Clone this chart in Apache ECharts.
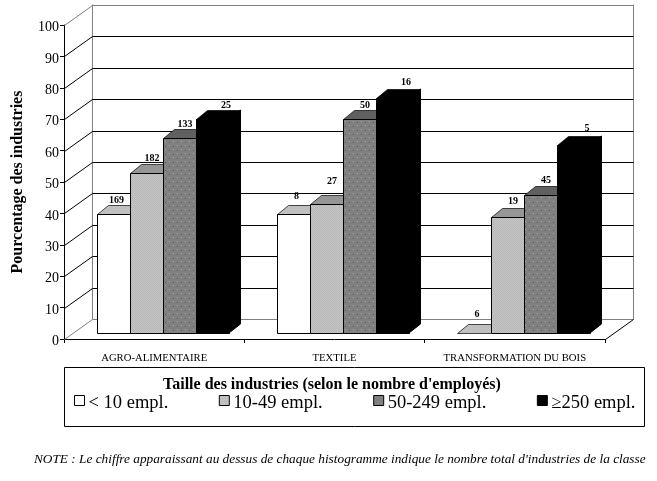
<!DOCTYPE html>
<html><head><meta charset="utf-8">
<style>html,body{margin:0;padding:0;background:#fff}#c{width:657px;height:481px}</style>
<script src="https://cdn.jsdelivr.net/npm/echarts@6/dist/echarts.min.js"></script>
</head><body><div id="c"></div>
<script>
const categories = ['AGRO-ALIMENTAIRE', 'TEXTILE', 'TRANSFORMATION DU BOIS'];
const sizeClasses = ['< 10 empl.', '10-49 empl.', '50-249 empl.', '≥250 empl.'];
const under10 = [38, 38, 0];
const from10to49 = [51, 41, 37];
const from50to249 = [62, 68, 44];
const over250 = [68, 75, 60];
const countUnder10 = [169, 8, 6];
const count10to49 = [182, 27, 19];
const count50to249 = [133, 50, 45];
const countOver250 = [25, 16, 5];
const yTicks = [0, 10, 20, 30, 40, 50, 60, 70, 80, 90, 100];

const SERIF = '"Liberation Serif","Times New Roman",serif';
const WALL = {dx: 28, dy: -21};
const BAR = {shiftX: 8.8, shiftY: -6, dx: 11.5, dy: -9, ratio: 0.1835};

function tile(base, draw) {
  const c = document.createElement('canvas'); c.width = 8; c.height = 8;
  const g = c.getContext('2d'); g.fillStyle = base; g.fillRect(0, 0, 8, 8); draw(g); return c;
}
const lightTile = tile('#C4C4C4', g => {
  g.fillStyle = '#B8B8B8';
  for (let y = 0; y < 8; y++) for (let x = 0; x < 8; x++) if ((x + y) % 2 === 0) g.fillRect(x, y, 1, 1);
});
const darkTile = tile('#808080', g => {
  g.fillStyle = '#A8A8A8'; g.fillRect(1, 1, 1, 1); g.fillRect(5, 5, 1, 1);
  g.fillStyle = '#606060'; g.fillRect(5, 2, 1, 1); g.fillRect(1, 6, 1, 1);
});
const looks = [
  {legend: '#FFFFFF', front: '#FFFFFF', top: '#C0C0C0', labelDx: 3, labelRise: [4.5, 8.5, 10]},
  {legend: '#C0C0C0', front: {image: lightTile, repeat: 'repeat'}, top: '#969696', labelDx: 5.5, labelRise: [6, 14, 7]},
  {legend: '#808080', front: {image: darkTile, repeat: 'repeat'}, top: '#606060', labelDx: 5.5, labelRise: [5, 5, 6]},
  {legend: '#000000', front: '#000000', top: '#000000', labelDx: 13.5, labelRise: [5, 7, 8]}
];
const crisp = v => Math.round(v) + 0.5;

function renderWall(params, api) {
  const v = api.value(0), cs = params.coordSys;
  const y = crisp(api.coord([0, v])[1]);
  const yB = crisp(y + WALL.dy);
  const xL = crisp(cs.x), xR = crisp(cs.x + cs.width);
  const edge = v === 0 || v === 100;
  const color = edge ? '#808080' : '#000000';
  const line = (x1, y1, x2, y2, c) => ({type: 'line', shape: {x1, y1, x2, y2}, style: {stroke: c || color, lineWidth: 1}});
  const children = [line(xL, y, xL + WALL.dx, yB), line(xL + WALL.dx, yB, xR + WALL.dx, yB)];
  if (v === 0) {
    const yTop = crisp(api.coord([0, 100])[1] + WALL.dy);
    children.push(line(xL + WALL.dx, yB, xL + WALL.dx, yTop), line(xR + WALL.dx, yB, xR + WALL.dx, yTop));
    children.push(line(xR, y, xR + WALL.dx, yB, '#000000'));
  }
  return {type: 'group', children};
}

function renderBar(idx) {
  return function (params, api) {
    const cat = api.value(0), val = api.value(1), count = api.value(2);
    const center = api.coord([cat, 0]);
    const w = api.size([1, 0])[0] * BAR.ratio;
    const x0 = Math.round(center[0] - 2 * w + idx * w + BAR.shiftX);
    const x1 = Math.round(center[0] - 2 * w + (idx + 1) * w + BAR.shiftX);
    const y0 = Math.round(center[1] + BAR.shiftY);
    const y1 = Math.round(api.coord([cat, val])[1] + BAR.shiftY);
    const look = looks[idx];
    const sideFill = idx === 3 ? '#000000' : look.top;
    const children = [
      {type: 'polygon', shape: {points: [[x0 + 0.5, y1 + 0.5], [x1 + 0.5, y1 + 0.5], [x1 + BAR.dx, y1 + BAR.dy + 0.5], [x0 + BAR.dx, y1 + BAR.dy + 0.5]]}, style: {fill: look.top, stroke: '#000000', lineWidth: 0.7}},
      {type: 'polygon', shape: {points: [[x1, y1], [x1 + BAR.dx, y1 + BAR.dy], [x1 + BAR.dx, y0 + BAR.dy], [x1, y0]]}, style: {fill: sideFill, stroke: sideFill, lineWidth: 1}}
    ];
    if (val > 0) {
      children.push({type: 'rect', shape: {x: x0 + 0.5, y: y1 + 0.5, width: x1 - x0, height: y0 - y1}, style: {fill: look.front, stroke: '#000000', lineWidth: 1}});
    }
    children.push({
      type: 'text',
      style: {
        x: (x0 + x1) / 2 + look.labelDx,
        y: y1 + BAR.dy - look.labelRise[cat],
        text: String(count), fill: '#000000', align: 'center', verticalAlign: 'middle',
        font: 'bold 10px ' + SERIF
      }
    });
    return {type: 'group', children};
  };
}

const sets = [[under10, countUnder10], [from10to49, count10to49], [from50to249, count50to249], [over250, countOver250]];
const chart = echarts.init(document.getElementById('c'), null, {renderer: 'canvas'});
chart.setOption({
  animation: false,
  backgroundColor: '#fff',
  textStyle: {fontFamily: SERIF},
  grid: {left: 64, right: 52, top: 25, bottom: 142, containLabel: false, outerBoundsMode: 'none'},
  title: [
    {text: "Taille des industries (selon le nombre d'employés)", left: 163, top: 377, padding: 0,
     textStyle: {fontFamily: SERIF, fontSize: 16, fontWeight: 'bold', color: '#000', lineHeight: 16}},
    {text: "NOTE : Le chiffre apparaissant au dessus de chaque histogramme indique le nombre total d'industries de la classe", left: 34, top: 453, padding: 0,
     textStyle: {fontFamily: SERIF, fontSize: 13.3, fontWeight: 'normal', fontStyle: 'italic', color: '#000', lineHeight: 14}}
  ],
  graphic: [{type: 'rect', shape: {x: 64.5, y: 367.5, width: 580, height: 59}, style: {fill: 'none', stroke: '#000', lineWidth: 1}}],
  legend: {
    data: sizeClasses, left: 74, top: 394, padding: 0, itemGap: 50.5, itemWidth: 10, itemHeight: 10,
    icon: 'rect', selectedMode: false,
    itemStyle: {borderColor: '#000', borderWidth: 1},
    formatter: name => '{a|' + name + '}',
    textStyle: {
      fontFamily: SERIF, fontSize: 18.5, color: '#000',
      rich: {a: {fontFamily: SERIF, fontSize: 18.5, color: '#000', padding: [6, 0, 0, -1]}}
    }
  },
  xAxis: {
    type: 'category', data: categories, boundaryGap: true,
    axisLine: {show: true, lineStyle: {color: '#000', width: 1}},
    axisTick: {show: true, length: 4, alignWithLabel: false, lineStyle: {color: '#000'}},
    axisLabel: {fontFamily: SERIF, fontSize: 10.7, color: '#000', margin: 14, interval: 0},
    splitLine: {show: false}
  },
  yAxis: {
    type: 'value', min: 0, max: 100, interval: 10,
    name: 'Pourcentage des industries', nameLocation: 'middle', nameRotate: 90, nameGap: 38,
    nameTextStyle: {fontFamily: SERIF, fontSize: 16, fontWeight: 'bold', color: '#000'},
    axisLine: {show: true, lineStyle: {color: '#000', width: 1}},
    axisTick: {show: true, length: 4, lineStyle: {color: '#000'}},
    axisLabel: {
      color: '#000', margin: 5, formatter: '{a|{value}}',
      rich: {a: {fontFamily: SERIF, fontSize: 14, color: '#000', padding: [5, 0, 0, 0]}}
    },
    splitLine: {show: false}
  },
  series: [
    {type: 'custom', name: 'walls', z: 1, silent: true, renderItem: renderWall,
     encode: {y: 0}, data: yTicks.map(v => [v])}
  ].concat(sets.map((s, idx) => ({
    type: 'custom', name: sizeClasses[idx], z: 3 + idx, silent: true,
    itemStyle: {color: looks[idx].legend},
    renderItem: renderBar(idx), encode: {x: 0, y: 1},
    data: s[0].map((v, i) => [i, v, s[1][i]])
  })))
});
</script></body></html>
